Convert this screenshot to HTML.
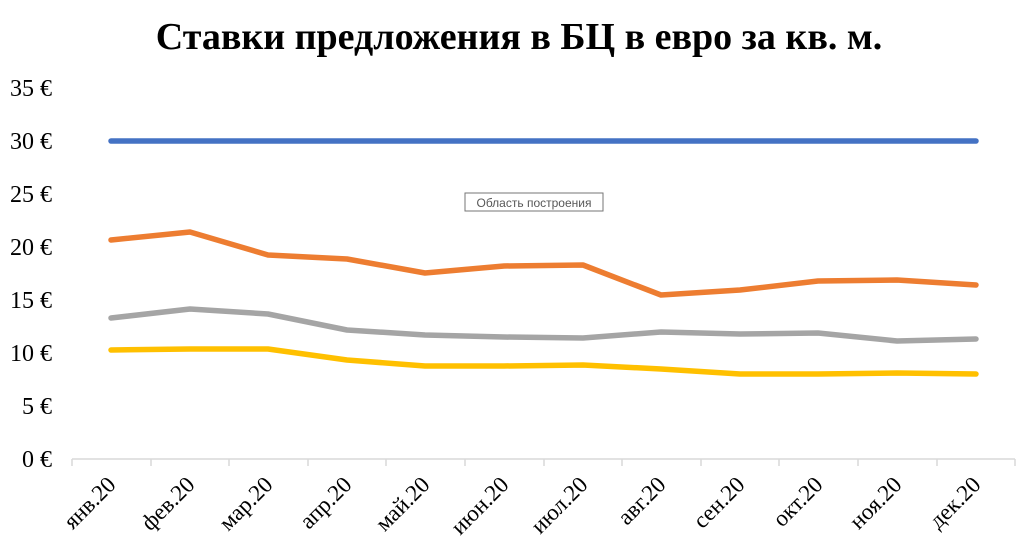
<!DOCTYPE html>
<html><head><meta charset="utf-8"><style>
body{margin:0;background:#fff}
svg{display:block}
</style></head><body>
<svg width="1024" height="551" xmlns="http://www.w3.org/2000/svg" font-family="Liberation Serif, serif">
<rect width="1024" height="551" fill="#fff"/>
<text x="519" y="49" text-anchor="middle" font-size="38" font-weight="bold">Ставки предложения в БЦ в евро за кв. м.</text>
<g font-size="24" text-anchor="end" fill="#000">
<text x="52" y="467">0 €</text>
<text x="52" y="414">5 €</text>
<text x="52" y="361">10 €</text>
<text x="52" y="308">15 €</text>
<text x="52" y="255">20 €</text>
<text x="52" y="202">25 €</text>
<text x="52" y="149">30 €</text>
<text x="52" y="96">35 €</text>
</g>
<g stroke="#d9d9d9" stroke-width="1.5" fill="none">
<line x1="72" y1="459" x2="1015" y2="459"/>
<line x1="72" y1="459" x2="72" y2="466"/><line x1="151" y1="459" x2="151" y2="466"/><line x1="229" y1="459" x2="229" y2="466"/><line x1="308" y1="459" x2="308" y2="466"/><line x1="386" y1="459" x2="386" y2="466"/><line x1="465" y1="459" x2="465" y2="466"/><line x1="544" y1="459" x2="544" y2="466"/><line x1="622" y1="459" x2="622" y2="466"/><line x1="701" y1="459" x2="701" y2="466"/><line x1="779" y1="459" x2="779" y2="466"/><line x1="858" y1="459" x2="858" y2="466"/><line x1="937" y1="459" x2="937" y2="466"/><line x1="1015" y1="459" x2="1015" y2="466"/>
</g>
<g font-size="23" text-anchor="end">
<text transform="translate(117,486) rotate(-45)">янв.20</text>
<text transform="translate(196,486) rotate(-45)">фев.20</text>
<text transform="translate(274,486) rotate(-45)">мар.20</text>
<text transform="translate(353,486) rotate(-45)">апр.20</text>
<text transform="translate(431,486) rotate(-45)">май.20</text>
<text transform="translate(510,486) rotate(-45)">июн.20</text>
<text transform="translate(589,486) rotate(-45)">июл.20</text>
<text transform="translate(667,486) rotate(-45)">авг.20</text>
<text transform="translate(746,486) rotate(-45)">сен.20</text>
<text transform="translate(824,486) rotate(-45)">окт.20</text>
<text transform="translate(903,486) rotate(-45)">ноя.20</text>
<text transform="translate(982,486) rotate(-45)">дек.20</text>
</g>
<g fill="none" stroke-width="5.5" stroke-linecap="round" stroke-linejoin="round">
<polyline stroke="#4472c4" points="111,141 976,141"/>
<polyline stroke="#ed7d31" points="111,240 190,232 268,255 347,259 425,273 504,266 583,265 661,295 740,290 818,281 897,280 976,285"/>
<polyline stroke="#a5a5a5" points="111,318 190,309 268,314 347,330 425,335 504,337 583,338 661,332 740,334 818,333 897,341 976,339"/>
<polyline stroke="#ffc000" points="111,350 190,349 268,349 347,360 425,366 504,366 583,365 661,369 740,374 818,374 897,373 976,374"/>
</g>
<rect x="465" y="193" width="138" height="18" fill="#fff" stroke="#767676" stroke-width="1"/>
<text x="534" y="207" text-anchor="middle" font-family="Liberation Sans, sans-serif" font-size="12" fill="#575757">Область построения</text>
</svg>
</body></html>
